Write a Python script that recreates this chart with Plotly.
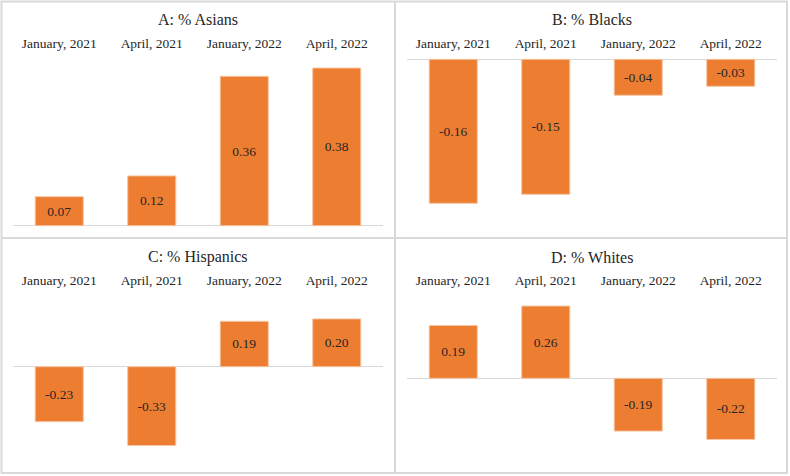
import plotly.graph_objects as go

W, H = 790, 476

categories = ["January, 2021", "April, 2021", "January, 2022", "April, 2022"]
titles = ["A: % Asians", "B: % Blacks", "C: % Hispanics", "D: % Whites"]
asians = [0.07, 0.12, 0.36, 0.38]
blacks = [-0.16, -0.15, -0.04, -0.03]
hispanics = [-0.23, -0.33, 0.19, 0.20]
whites = [0.19, 0.26, -0.19, -0.22]
series = [asians, blacks, hispanics, whites]

BAR = "#ED7D31"
GRID = "#d9d9d9"
FONT = "Liberation Serif, Times New Roman, serif"
TXT = "#262626"

# panel geometry in pixels (from top-left): x0, x1, plot top, plot bottom, zero y, px per unit
panels = [
    (13, 383, 52, 232, 225.7, 415),
    (407, 777, 52, 232, 59.3, 900),
    (13, 383, 289, 470, 366.7, 239),
    (407, 777, 289, 470, 378.3, 278),
]
title_y = [20, 20, 257, 257]

fig = go.Figure()
layout = dict(
    width=W, height=H, margin=dict(l=0, r=0, t=0, b=0),
    paper_bgcolor="white", plot_bgcolor="rgba(0,0,0,0)",
    showlegend=False, font=dict(family=FONT, size=13, color=TXT),
    bargap=0.48,
)
annotations = []
for i, (vals, (x0, x1, top, bot, zy, k)) in enumerate(zip(series, panels)):
    n = "" if i == 0 else str(i + 1)
    fig.add_trace(go.Bar(
        x=categories, y=vals, xaxis="x" + n, yaxis="y" + n,
        marker=dict(color=BAR, line=dict(color="#f6c7a6", width=1)),
        text=[f"{v:.2f}" for v in vals], textposition="inside",
        insidetextanchor="middle", textangle=0,
        textfont=dict(family=FONT, size=13.5, color=TXT),
        cliponaxis=False, hoverinfo="skip",
    ))
    r1 = (zy - top) / k
    r0 = -(bot - zy) / k
    layout["xaxis" + n] = dict(
        domain=[x0 / W, x1 / W], anchor="y" + n, side="top",
        showline=False, showgrid=False, zeroline=False, ticks="",
        tickfont=dict(family=FONT, size=13.5, color=TXT), fixedrange=True,
    )
    layout["yaxis" + n] = dict(
        domain=[1 - bot / H, 1 - top / H], anchor="x" + n, range=[r0, r1],
        showgrid=False, showticklabels=False, ticks="", showline=False,
        zeroline=True, zerolinecolor=GRID, zerolinewidth=1, fixedrange=True,
    )
    annotations.append(dict(
        text=titles[i], x=(x0 + x1) / 2 / W, y=1 - title_y[i] / H,
        xref="paper", yref="paper", showarrow=False,
        xanchor="center", yanchor="middle",
        font=dict(family=FONT, size=16, color=TXT),
    ))

shapes = [
    dict(type="rect", xref="paper", yref="paper", x0=1.5 / W, x1=787 / W,
         y0=1 - 473 / H, y1=1 - 1.5 / H, line=dict(color=GRID, width=2)),
    dict(type="line", xref="paper", yref="paper", x0=395 / W, x1=395 / W,
         y0=1 - 473 / H, y1=1 - 1.5 / H, line=dict(color=GRID, width=2)),
    dict(type="line", xref="paper", yref="paper", x0=1.5 / W, x1=787 / W,
         y0=1 - 238 / H, y1=1 - 238 / H, line=dict(color=GRID, width=2)),
]
layout["annotations"] = annotations
layout["shapes"] = shapes
fig.update_layout(**layout)
fig.write_html("out.html", config={"displayModeBar": False, "staticPlot": True},
               post_script="document.body.style.margin='0';")
